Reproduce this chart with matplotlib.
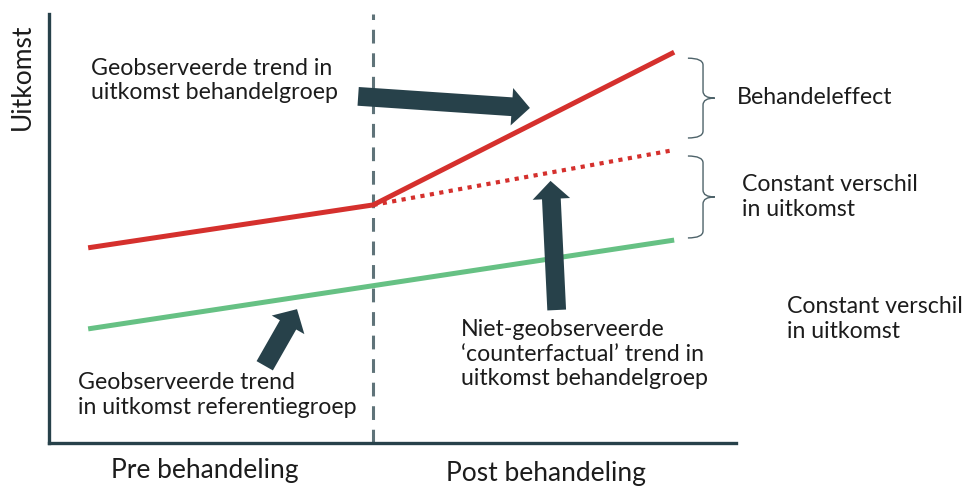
import matplotlib
matplotlib.use("Agg")
import matplotlib.pyplot as plt
from matplotlib.path import Path
from matplotlib.patches import PathPatch

plt.rcParams["font.family"] = ["Lato", "DejaVu Sans"]

# ── data (abstract outcome scale 0-100) ─────────────────────────────────────
periods        = [5.7, 47.2, 91.0]     # start, treatment moment, end
treated        = [45.5, 55.5, 91.1]    # observed trend treatment group
counterfactual = [55.5, 68.3]          # from treatment moment to end
reference      = [26.6, 47.3]          # start and end, reference group

# ── style ───────────────────────────────────────────────────────────────────
RED   = "#D5302D"
GREEN = "#66C184"
DARK  = "#27414A"
GREY  = "#5F7379"
TEXT  = "#1C1C1C"

W, H = 977, 486
fig = plt.figure(figsize=(W / 100, H / 100), dpi=100)


def fxy(x, y):
    """pixel position -> figure fraction"""
    return x / W, 1 - y / H


left, top, right, bottom = 49, 14, 736, 443
ax = fig.add_axes([left / W, 1 - bottom / H, (right - left) / W, (bottom - top) / H])
ax.set_xlim(0, 100)
ax.set_ylim(0, 100)
ax.set_xticks([])
ax.set_yticks([])
ax.spines[["top", "right"]].set_visible(False)
for s in ("left", "bottom"):
    ax.spines[s].set_color(DARK)
    ax.spines[s].set_linewidth(2.4)

# treatment moment
ax.axvline(periods[1], color=GREY, lw=2.2, ls=(0, (4.5, 3.2)), zorder=1)

# trends
ax.plot(periods, treated, color=RED, lw=3.6, solid_capstyle="butt", zorder=3)
ax.plot(periods[1:], counterfactual, color=RED, lw=3.0, ls=(0, (1, 1.3)), zorder=3)
ax.plot([periods[0], periods[2]], reference, color=GREEN, lw=3.6,
        solid_capstyle="butt", zorder=3)


def arrow(tail, tip):
    ax.annotate("", xy=tip, xytext=tail,
                arrowprops=dict(arrowstyle="simple,head_length=1.3,head_width=2.7,tail_width=1.35",
                                fc=DARK, ec="none", shrinkA=0, shrinkB=0,
                                mutation_scale=10), zorder=4)


arrow((45.0, 80.8), (70.0, 78.1))
arrow((73.9, 31.0), (73.0, 61.1))
arrow((31.4, 18.0), (36.1, 31.2))


def brace(y_top, y_bot, x_end=93.0, x_mid=95.2, x_tip=96.9, r=1.6):
    ym = (y_top + y_bot) / 2
    verts = [(x_end, y_top), (x_mid, y_top), (x_mid, y_top - r),
             (x_mid, ym + r), (x_mid, ym), (x_tip, ym),
             (x_mid, ym), (x_mid, ym - r),
             (x_mid, y_bot + r), (x_mid, y_bot), (x_end, y_bot)]
    codes = [Path.MOVETO, Path.CURVE3, Path.CURVE3,
             Path.LINETO, Path.CURVE3, Path.CURVE3,
             Path.CURVE3, Path.CURVE3,
             Path.LINETO, Path.CURVE3, Path.CURVE3]
    ax.add_patch(PathPatch(Path(verts, codes), fc="none", ec="#4E636A",
                           lw=1.0, clip_on=False))


gap = 1.4
brace(treated[-1] - gap, counterfactual[-1] + gap * 2)
brace(counterfactual[-1] - gap, reference[-1] + 0.5)

# ── labels ──────────────────────────────────────────────────────────────────
FS, FS_AXIS = 16.7, 19.0
kw = dict(fontsize=FS, color=TEXT, ha="left", va="center", linespacing=1.22)

fig.text(*fxy(22, 77), "Uitkomst", rotation=90, ha="center", va="center",
         fontsize=FS_AXIS, color=TEXT)
fig.text(*fxy(91, 80.5), "Geobserveerde trend in\nuitkomst behandelgroep", **kw)
fig.text(*fxy(737, 97), "Behandeleffect", **kw)
fig.text(*fxy(742, 197), "Constant verschil\nin uitkomst", **kw)
fig.text(*fxy(787, 319), "Constant verschil\nin uitkomst", **kw)
fig.text(*fxy(461, 354),
         "Niet-geobserveerde\n\u2018counterfactual\u2019 trend in\nuitkomst behandelgroep", **kw)
fig.text(*fxy(78, 395), "Geobserveerde trend\nin uitkomst referentiegroep", **kw)
fig.text(*fxy(111, 470), "Pre behandeling", fontsize=FS_AXIS, color=TEXT,
         ha="left", va="center")
fig.text(*fxy(446, 473), "Post behandeling", fontsize=FS_AXIS, color=TEXT,
         ha="left", va="center")

fig.savefig("out.png", dpi=100)
